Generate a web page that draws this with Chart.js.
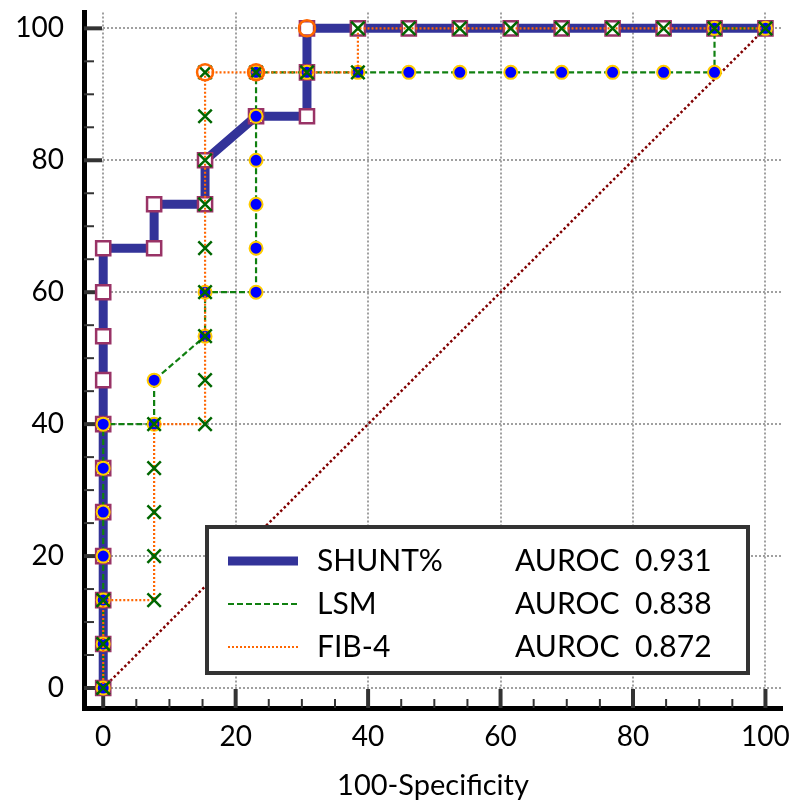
<!DOCTYPE html>
<html>
<head>
<meta charset="utf-8">
<script src="https://cdn.jsdelivr.net/npm/chart.js@4.4.1/dist/chart.umd.min.js"></script>
<style>
  html, body { margin: 0; padding: 0; background: #fff; }
  #wrap { width: 795px; height: 805px; }
</style>
</head>
<body>
<div id="wrap"><canvas id="rocChart"></canvas></div>
<script>
// ROC points (100-Specificity, Sensitivity)
var shuntX = [0, 0, 0, 0, 0, 0, 0, 0, 0, 0, 0, 7.69, 7.69, 15.38, 15.38, 23.08, 30.77, 30.77, 30.77, 38.46, 46.15, 53.85, 61.54, 69.23, 76.92, 84.62, 92.31, 100];
var shuntY = [0, 6.67, 13.33, 20, 26.67, 33.33, 40, 46.67, 53.33, 60, 66.67, 66.67, 73.33, 73.33, 80, 86.67, 86.67, 93.33, 100, 100, 100, 100, 100, 100, 100, 100, 100, 100];

var lsmX = [0, 0, 0, 0, 0, 0, 0, 7.69, 7.69, 15.38, 15.38, 23.08, 23.08, 23.08, 23.08, 23.08, 23.08, 30.77, 38.46, 46.15, 53.85, 61.54, 69.23, 76.92, 84.62, 92.31, 92.31, 100];
var lsmY = [0, 6.67, 13.33, 20, 26.67, 33.33, 40, 40, 46.67, 53.33, 60, 60, 66.67, 73.33, 80, 86.67, 93.33, 93.33, 93.33, 93.33, 93.33, 93.33, 93.33, 93.33, 93.33, 93.33, 100, 100];

var fibX = [0, 0, 0, 7.69, 7.69, 7.69, 7.69, 7.69, 15.38, 15.38, 15.38, 15.38, 15.38, 15.38, 15.38, 15.38, 15.38, 23.08, 30.77, 38.46, 38.46, 46.15, 53.85, 61.54, 69.23, 76.92, 84.62, 92.31, 100];
var fibY = [0, 6.67, 13.33, 13.33, 20, 26.67, 33.33, 40, 40, 46.67, 53.33, 60, 66.67, 73.33, 80, 86.67, 93.33, 93.33, 93.33, 93.33, 100, 100, 100, 100, 100, 100, 100, 100, 100];

// open orange circles
var markX = [15.38, 23.08, 30.77];
var markY = [93.33, 93.33, 100];

var diagX = [0, 100];
var diagY = [0, 100];

var names = ['SHUNT%', 'LSM', 'FIB-4'];
var auroc = [0.931, 0.838, 0.872];

var tickValues = [0, 20, 40, 60, 80, 100];
var minorValues = [0, 5, 10, 15, 20, 25, 30, 35, 40, 45, 50, 55, 60, 65, 70, 75, 80, 85, 90, 95, 100];

var FONT = 'Lato';

function pts(xs, ys) {
  return xs.map(function (x, i) { return { x: x, y: ys[i] }; });
}

var styles = [
  { color: '#333399', width: 9, dash: [] },
  { color: '#108010', width: 2.2, dash: [6, 3] },
  { color: '#ff6600', width: 2.2, dash: [2, 2] }
];

// inward tick marks on both axes
var innerTicks = {
  id: 'innerTicks',
  beforeDatasetsDraw: function (chart) {
    var ctx = chart.ctx, a = chart.chartArea;
    var sx = chart.scales.x, sy = chart.scales.y;
    ctx.save();
    ctx.strokeStyle = '#333';
    minorValues.forEach(function (v) {
      var major = tickValues.indexOf(v) >= 0;
      ctx.lineWidth = major ? 4 : 2;
      var px = sx.getPixelForValue(v);
      ctx.beginPath();
      ctx.moveTo(px, a.bottom);
      ctx.lineTo(px, a.bottom - (major ? 19 : 9));
      ctx.stroke();
      var py = sy.getPixelForValue(v);
      ctx.beginPath();
      ctx.moveTo(a.left, py);
      ctx.lineTo(a.left + (major ? 18 : 10), py);
      ctx.stroke();
    });
    ctx.restore();
  }
};

// boxed legend with AUROC values
var rocLegend = {
  id: 'rocLegend',
  afterDraw: function (chart) {
    var ctx = chart.ctx;
    ctx.save();
    ctx.fillStyle = '#fff';
    ctx.fillRect(207, 527, 541, 146);
    ctx.lineWidth = 4;
    ctx.strokeStyle = '#333';
    ctx.strokeRect(207, 527, 541, 146);
    ctx.font = '30px ' + FONT;
    ctx.textBaseline = 'middle';
    ctx.fillStyle = '#000';
    for (var i = 0; i < names.length; i++) {
      var y = 561 + i * 43;
      ctx.beginPath();
      ctx.lineWidth = styles[i].width;
      ctx.strokeStyle = styles[i].color;
      ctx.setLineDash(styles[i].dash);
      ctx.moveTo(228, y);
      ctx.lineTo(298, y);
      ctx.stroke();
      ctx.setLineDash([]);
      ctx.fillText(names[i], 317, y);
      ctx.fillText('AUROC  ' + auroc[i].toFixed(3), 515, y);
    }
    ctx.restore();
  }
};

var ctx = document.getElementById('rocChart').getContext('2d');

new Chart(ctx, {
  type: 'scatter',
  data: {
    datasets: [
      {
        label: 'marks',
        data: pts(markX, markY),
        showLine: false,
        pointStyle: 'circle',
        pointRadius: 8,
        pointBackgroundColor: 'rgba(0,0,0,0)',
        pointBorderColor: '#ff6600',
        pointBorderWidth: 2.5,
        order: 1
      },
      {
        label: names[2],
        data: pts(fibX, fibY),
        showLine: true,
        borderColor: styles[2].color,
        borderWidth: styles[2].width,
        borderDash: styles[2].dash,
        pointStyle: 'crossRot',
        pointRadius: 9.5,
        pointBorderColor: '#006600',
        pointBorderWidth: 2.5,
        order: 2
      },
      {
        label: names[1],
        data: pts(lsmX, lsmY),
        showLine: true,
        borderColor: styles[1].color,
        borderWidth: styles[1].width,
        borderDash: styles[1].dash,
        pointStyle: 'circle',
        pointRadius: 6.5,
        pointBackgroundColor: '#0000ff',
        pointBorderColor: '#ffcc00',
        pointBorderWidth: 2,
        order: 3
      },
      {
        label: names[0],
        data: pts(shuntX, shuntY),
        showLine: true,
        borderColor: styles[0].color,
        borderWidth: styles[0].width,
        pointStyle: 'rect',
        pointRadius: 10,
        pointBackgroundColor: '#ffffff',
        pointBorderColor: '#993366',
        pointBorderWidth: 2.5,
        order: 4
      },
      {
        label: 'reference',
        data: pts(diagX, diagY),
        showLine: true,
        borderColor: '#800000',
        borderWidth: 2.5,
        borderDash: [2.5, 2.5],
        pointRadius: 0,
        order: 5
      }
    ]
  },
  options: {
    responsive: true,
    maintainAspectRatio: false,
    animation: false,
    layout: { padding: { top: 4, right: 13, left: 0, bottom: 0 } },
    plugins: {
      legend: { display: false },
      tooltip: { enabled: false }
    },
    scales: {
      x: {
        type: 'linear',
        min: -2.9,
        max: 102.5,
        afterFit: function (s) { s.height = 97; s.paddingLeft = 0; s.paddingRight = 0; },
        afterBuildTicks: function (s) { s.ticks = tickValues.map(function (v) { return { value: v }; }); },
        grid: { color: '#a0a0a0', lineWidth: 2, drawTicks: false },
        border: { display: true, color: '#000', width: 5, dash: [2, 2] },
        ticks: {
          padding: 12,
          color: '#000',
          maxRotation: 0,
          autoSkip: false,
          font: { family: FONT, size: 28 },
          callback: function (v) { return String(v); }
        },
        title: {
          display: true,
          text: '100-Specificity',
          color: '#000',
          font: { family: FONT, size: 29 },
          padding: { top: 0, bottom: 2 }
        }
      },
      y: {
        type: 'linear',
        min: -3.03,
        max: 102.4,
        afterFit: function (s) { s.width = 84; s.paddingTop = 0; s.paddingBottom = 0; },
        afterBuildTicks: function (s) { s.ticks = tickValues.map(function (v) { return { value: v }; }); },
        grid: { color: '#a0a0a0', lineWidth: 2, drawTicks: false },
        border: { display: true, color: '#000', width: 5, dash: [2, 2] },
        ticks: {
          padding: 20,
          color: '#000',
          autoSkip: false,
          font: { family: FONT, size: 28 },
          callback: function (v) { return String(v); }
        }
      }
    }
  },
  plugins: [innerTicks, rocLegend]
});
</script>
</body>
</html>
